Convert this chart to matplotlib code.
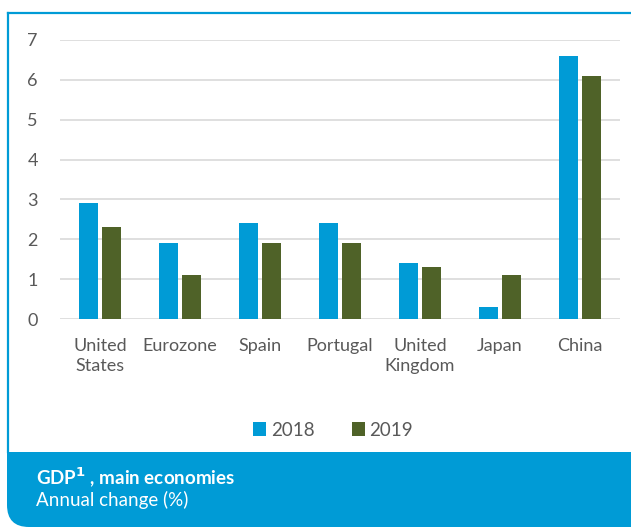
import matplotlib
matplotlib.use("Agg")
import matplotlib.pyplot as plt
import numpy as np
from matplotlib.path import Path
from matplotlib.patches import PathPatch

categories = ["United\nStates", "Eurozone", "Spain", "Portugal", "United\nKingdom", "Japan", "China"]
gdp_2018 = [2.9, 1.9, 2.4, 2.4, 1.4, 0.3, 6.6]
gdp_2019 = [2.3, 1.1, 1.9, 1.9, 1.3, 1.1, 6.1]

BLUE = "#009bd6"
GREEN = "#4f6228"
GRAY = "#595959"

plt.rcParams["font.family"] = ["Lato", "DejaVu Sans"]

W, H = 631, 527
fig = plt.figure(figsize=(W / 100, H / 100), dpi=100)


def px(x, y):
    return x / W, 1 - y / H


# blue frame (left + top edges)
fig.add_artist(plt.Line2D([8 / W, 8 / W], [1 - 13 / H, 1 - 452 / H], color=BLUE, lw=1.6))
fig.add_artist(plt.Line2D([8 / W, 1], [1 - 13 / H, 1 - 13 / H], color=BLUE, lw=1.6))

# caption box with rounded bottom-left corner
r = 22
verts = [(7, 452), (W, 452), (W, 527), (7 + r, 527), (7, 527), (7, 527 - r), (7, 452)]
codes = [Path.MOVETO, Path.LINETO, Path.LINETO, Path.LINETO, Path.CURVE3, Path.CURVE3, Path.CLOSEPOLY]
verts = [px(x, y) for x, y in verts]
fig.add_artist(PathPatch(Path(verts, codes), facecolor=BLUE, edgecolor="none",
                         transform=fig.transFigure))

fig.text(36 / W, 1 - 477 / H, r"GDP$^{\mathbf{1}}$ , main economies", color="white",
         fontsize=13.5, fontweight="bold", va="center", ha="left")
fig.text(36 / W, 1 - 500 / H, "Annual change (%)", color="white",
         fontsize=13.5, va="center", ha="left")

ax = fig.add_axes([60 / W, 1 - 319 / H, 560 / W, 279 / H])
x = np.arange(len(categories))
bw = 0.24
ax.bar(x - bw / 2 - 0.025, gdp_2018, width=bw, color=BLUE, label="2018", zorder=3)
ax.bar(x + bw / 2 + 0.025, gdp_2019, width=bw, color=GREEN, label="2019", zorder=3)

ax.set_xlim(-0.5, len(categories) - 0.5)
ax.set_ylim(0, 7)
ax.set_yticks(range(0, 8))
ax.yaxis.grid(True, color="#d9d9d9", lw=1.2, zorder=0)
ax.set_xticks(x)
ax.set_xticklabels(categories, fontsize=13, color=GRAY, linespacing=1.25)
ax.tick_params(axis="y", labelsize=13, labelcolor=GRAY, length=0, pad=16)
ax.tick_params(axis="x", length=0, pad=14)
for s in ax.spines.values():
    s.set_visible(False)

ax.legend(loc="center", bbox_to_anchor=(333 / W, 1 - 430 / H), bbox_transform=fig.transFigure,
          ncol=2, frameon=False, fontsize=13.5, labelcolor=GRAY, handlelength=0.7,
          handleheight=0.7, handletextpad=0.25, columnspacing=2.0)

fig.savefig("out.png", dpi=100)
